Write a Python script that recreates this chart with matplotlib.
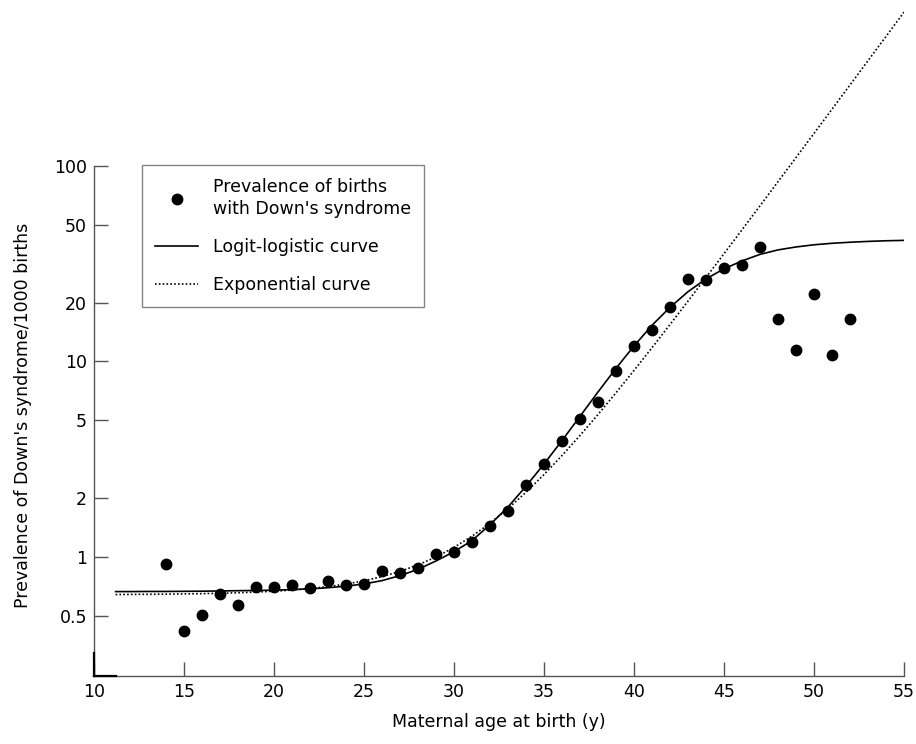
import numpy as np
import matplotlib
matplotlib.use("Agg")
import matplotlib.pyplot as plt
from matplotlib.ticker import FixedLocator, NullLocator, FixedFormatter

# observed prevalence per 1000 births, by maternal age
ages = [14, 15, 16, 17, 18, 19, 20, 21, 22, 23, 24, 25, 26, 27, 28, 29, 30,
        31, 32, 33, 34, 35, 36, 37, 38, 39, 40, 41, 42, 43, 44, 45, 46, 47,
        48, 49, 50, 51, 52]
prevalence = [0.93, 0.42, 0.51, 0.65, 0.57, 0.71, 0.71, 0.72, 0.70, 0.76, 0.72,
              0.73, 0.85, 0.83, 0.88, 1.04, 1.07, 1.20, 1.45, 1.72, 2.35, 3.0,
              3.95, 5.1, 6.2, 8.9, 12.0, 14.5, 19.0, 26.5, 26.0, 30.0, 31.0,
              38.5, 16.5, 11.5, 22.0, 10.8, 16.5]

# fitted curves
curve_ages = [11.2, 12, 13, 14, 15, 16, 17, 18, 19, 20, 21, 22, 23, 24, 25, 26,
              27, 28, 29, 30, 31, 32, 33, 34, 35, 36, 37, 38, 39, 40, 41, 42,
              43, 44, 45, 46, 47, 48, 49, 50, 51, 52, 53, 54, 55]
logit_logistic = [0.670, 0.670, 0.671, 0.671, 0.672, 0.673, 0.675, 0.677, 0.679,
                  0.681, 0.686, 0.692, 0.701, 0.714, 0.733, 0.762, 0.808, 0.870,
                  0.960, 1.07, 1.22, 1.47, 1.81, 2.31, 3.0, 3.95, 5.25, 6.99,
                  9.23, 12.0, 15.3, 18.9, 22.7, 26.4, 29.7, 32.6, 35.2, 37.1,
                  38.4, 39.4, 40.1, 40.6, 41.0, 41.3, 41.5]
exponential = [0.647, 0.648, 0.649, 0.650, 0.652, 0.654, 0.657, 0.661, 0.666,
               0.673, 0.682, 0.694, 0.710, 0.732, 0.760, 0.799, 0.849, 0.917,
               1.006, 1.126, 1.285, 1.496, 1.777, 2.152, 2.649, 3.312, 4.193,
               5.366, 6.926, 9.0, 11.76, 15.44, 20.33, 26.83, 35.48, 46.99,
               62.3, 82.7, 109.8, 145.8, 193.8, 257.6, 342.6, 455.6, 606.0]

y_ticks = [0.5, 1, 2, 5, 10, 20, 50, 100]
y_ticklabels = ["0.5", "1", "2", "5", "10", "20", "50", "100"]
x_ticks = [10, 15, 20, 25, 30, 35, 40, 45, 50, 55]

plt.rcParams["font.family"] = ["DejaVu Sans"]
axis_grey = "#555555"
fs = 12.5

fig = plt.figure(figsize=(9.16, 7.44), dpi=100)
ax = fig.add_axes([94 / 916, 68 / 744, 810 / 916, 676 / 744])

ax.plot(ages, prevalence, "o", color="k", ms=7.5, mec="k",
        label="Prevalence of births\nwith Down's syndrome", zorder=3)
ax.plot(curve_ages, logit_logistic, "-", color="k", lw=1.2,
        label="Logit-logistic curve")
ax.plot(curve_ages, exponential, color="k", lw=1.2, ls=(0, (1, 1.3)),
        label="Exponential curve")

ax.set_yscale("log")
ax.set_xlim(10, 55)
ax.set_ylim(0.2485, 699)

ax.spines["top"].set_visible(False)
ax.spines["right"].set_visible(False)
for s in ("left", "bottom"):
    ax.spines[s].set_color(axis_grey)
    ax.spines[s].set_linewidth(1.0)
ax.spines["left"].set_bounds(0.2485, 100)

ax.yaxis.set_major_locator(FixedLocator(y_ticks))
ax.yaxis.set_major_formatter(FixedFormatter(y_ticklabels))
ax.yaxis.set_minor_locator(NullLocator())
ax.set_xticks(x_ticks)
ax.tick_params(axis="both", direction="in", length=10, width=1.0,
               color=axis_grey, labelsize=fs, pad=5)

# darker stub at the corner of the axes
ax.plot([0, 0], [0, 0.034], transform=ax.transAxes, color="k", lw=1.6,
        clip_on=False, zorder=4)
ax.plot([0, 0.027], [0, 0], transform=ax.transAxes, color="k", lw=1.6,
        clip_on=False, zorder=4)

ax.set_xlabel("Maternal age at birth (y)", fontsize=fs, labelpad=9)
ax.set_ylabel("Prevalence of Down's syndrome/1000 births", fontsize=fs)
ax.yaxis.set_label_coords(-0.0765, 0.385)

leg = ax.legend(loc="upper left", bbox_to_anchor=(0.0593, 0.756),
                borderaxespad=0, fancybox=False, frameon=True, fontsize=fs,
                handlelength=2.5, handletextpad=0.85, labelspacing=1.15,
                borderpad=0.75)
for t in leg.get_texts():
    t.set_linespacing(1.3)
leg.get_frame().set_edgecolor("#666666")
leg.get_frame().set_linewidth(1.0)

fig.savefig("out.png", dpi=100)
